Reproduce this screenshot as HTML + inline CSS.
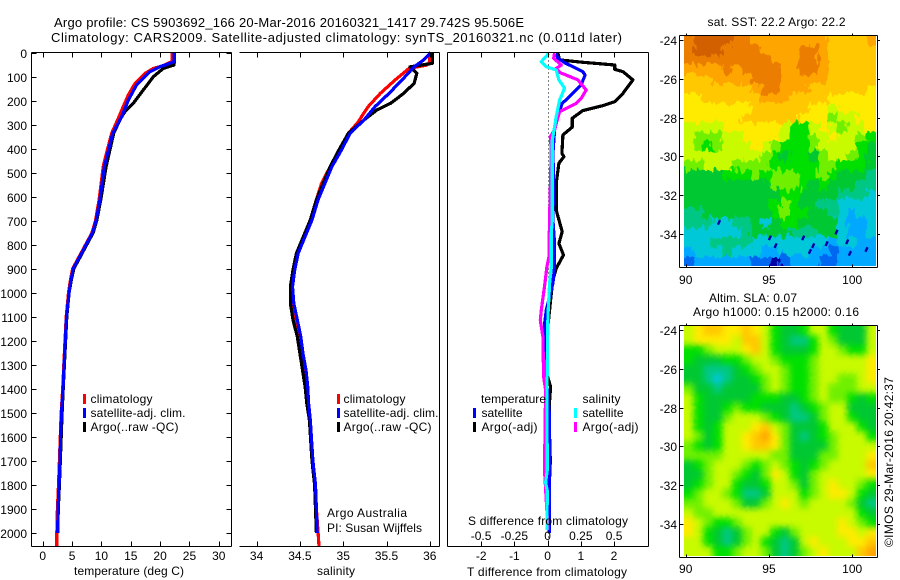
<!DOCTYPE html>
<html lang="en">
<head>
<meta charset="utf-8">
<title>Argo profile 5903692_166</title>
<style>
html,body{margin:0;padding:0;background:#fff;}
svg{display:block;}
text{font-family:"Liberation Sans",sans-serif;font-size:12px;fill:#000;}
</style>
</head>
<body>
<svg id="chart" xmlns="http://www.w3.org/2000/svg" width="900" height="580" viewBox="0 0 900 580">
  <defs>
    <filter id="soft-sst" x="-10%" y="-10%" width="120%" height="120%" color-interpolation-filters="sRGB">
      <feTurbulence type="fractalNoise" baseFrequency="0.22 0.1" numOctaves="2" seed="4" result="noise"/>
      <feDisplacementMap in="SourceGraphic" in2="noise" scale="13" xChannelSelector="R" yChannelSelector="G"/>
    </filter>
    <filter id="soft-sla" x="-10%" y="-10%" width="120%" height="120%" color-interpolation-filters="sRGB">
      <feGaussianBlur in="SourceGraphic" stdDeviation="3.2" result="blurred"/>
      <feTurbulence type="fractalNoise" baseFrequency="0.3" numOctaves="1" seed="2" result="noise"/>
      <feDisplacementMap in="blurred" in2="noise" scale="3" xChannelSelector="R" yChannelSelector="G"/>
    </filter>
    <clipPath id="clip-sst"><rect x="684" y="36" width="192" height="230"/></clipPath>
    <clipPath id="clip-sla"><rect x="684" y="326" width="192" height="230"/></clipPath>
  </defs>
  <rect width="900" height="580" fill="#fff"/>
  <text x="54" y="27" style="font-size:13px" textLength="470" lengthAdjust="spacing">Argo profile: CS 5903692_166 20-Mar-2016 20160321_1417 29.742S 95.506E</text>
  <text x="51" y="42" style="font-size:13px" textLength="571" lengthAdjust="spacing">Climatology: CARS2009. Satellite-adjusted climatology: synTS_20160321.nc (0.011d later)</text>
  <g id="panels"></g>
  <text x="74" y="575" textLength="110" lengthAdjust="spacing">temperature (deg C)</text>
  <text x="317" y="575" textLength="38" lengthAdjust="spacing">salinity</text>
  <text x="467" y="576" textLength="160" lengthAdjust="spacing">T difference from climatology</text>
  <text x="468" y="525" textLength="160" lengthAdjust="spacing">S difference from climatology</text>
  <text x="327" y="517" textLength="80" lengthAdjust="spacing">Argo Australia</text>
  <text x="327" y="532" textLength="95" lengthAdjust="spacing">PI: Susan Wijffels</text>

  <g>
    <rect x="83" y="394" width="3" height="10" fill="#f00"/>
    <text x="90.5" y="403" textLength="62" lengthAdjust="spacing">climatology</text>
    <rect x="83" y="408" width="3" height="10" fill="#00f"/>
    <text x="90.5" y="417" textLength="95" lengthAdjust="spacing">satellite-adj. clim.</text>
    <rect x="83" y="422" width="3" height="10" fill="#000"/>
    <text x="90.5" y="431" textLength="88" lengthAdjust="spacing">Argo(..raw -QC)</text>
  </g>
  <g>
    <rect x="337" y="394" width="3" height="10" fill="#f00"/>
    <text x="343.5" y="403" textLength="62" lengthAdjust="spacing">climatology</text>
    <rect x="337" y="408" width="3" height="10" fill="#00f"/>
    <text x="343.5" y="417" textLength="95" lengthAdjust="spacing">satellite-adj. clim.</text>
    <rect x="337" y="422" width="3" height="10" fill="#000"/>
    <text x="343.5" y="431" textLength="88" lengthAdjust="spacing">Argo(..raw -QC)</text>
  </g>
  <g>
    <text x="481" y="403" textLength="65" lengthAdjust="spacing">temperature</text>
    <rect x="473" y="408" width="3" height="10" fill="#00f"/>
    <text x="481.5" y="417" textLength="41" lengthAdjust="spacing">satellite</text>
    <rect x="473" y="422" width="3" height="10" fill="#000"/>
    <text x="481.5" y="431" textLength="56" lengthAdjust="spacing">Argo(-adj)</text>
    <text x="582.5" y="403" textLength="38" lengthAdjust="spacing">salinity</text>
    <rect x="574" y="408" width="3" height="10" fill="#0ff"/>
    <text x="582.5" y="417" textLength="41" lengthAdjust="spacing">satellite</text>
    <rect x="574" y="422" width="3" height="10" fill="#f0f"/>
    <text x="582.5" y="431" textLength="56" lengthAdjust="spacing">Argo(-adj)</text>
  </g>

  <text x="707.5" y="26" textLength="138" lengthAdjust="spacing">sat. SST: 22.2 Argo: 22.2</text>
  <text x="709" y="302" textLength="88" lengthAdjust="spacing">Altim. SLA: 0.07</text>
  <text x="693" y="316" textLength="166" lengthAdjust="spacing">Argo h1000: 0.15 h2000: 0.16</text>
  <text transform="translate(893 547) rotate(-90)" textLength="170" lengthAdjust="spacing">©IMOS 29-Mar-2016 20:42:37</text>
</svg>

<script>
// ---- depth axis ----
const depthTicks = [0,100,200,300,400,500,600,700,800,900,1000,1100,1200,1300,1400,1500,1600,1700,1800,1900,2000];
const temperatureTicks = [0,5,10,15,20,25,30];
const salinityTicks = [34,34.5,35,35.5,36];
const salinityTickLabels = ['34','34.5','35','35.5','36'];
const tDiffTicks = [-2,-1,0,1,2];
const tDiffTickLabels = ['-2','-1','0','1','2'];
const sDiffTicks = [-0.5,-0.25,0,0.25,0.5];
const sDiffTickLabels = ['-0.5','-0.25','0','0.25','0.5'];

// ---- temperature panel ----
const tempClimDepth = [0,30,38,55,66,87,129,177,225,274,336,406,475,613,700,750,800,850,900,950,1000,1100,1200,1300,1400,1500,1600,1700,1800,1900,2000,2055];
const tempClimValue = [22.08,22.08,21.97,20.55,18.84,17.43,15.72,14.58,13.73,12.88,11.75,11,10.3,9.6,9.0,8.4,7.3,6.2,5.1,4.7,4.4,4.0,3.8,3.6,3.4,3.15,3.0,2.85,2.7,2.5,2.4,2.4];
const tempSatDepth = [0,38,45,59,80,135,198,267,336,475,613,700,750,800,850,900,950,1000,1100,1200,1300,1400,1500,1600,1700,1800,1900,2000];
const tempSatValue = [22.42,22.42,21.69,19.98,18.28,16.0,14.58,13.45,11.95,10.5,9.75,9.1,8.5,7.4,6.3,5.2,4.8,4.5,4.05,3.85,3.65,3.45,3.2,3.05,2.95,2.8,2.6,2.55];
const tempArgoDepth = [0,38,52,66,101,156,211,246,274,336,475,613,700,750,800,850,900,950,1000,1100,1200,1300,1400,1500,1600,1700,1800,1900,2000];
const tempArgoValue = [22.42,22.42,22.37,20.55,18.84,17.14,15.43,14.02,13.29,12.1,10.8,9.9,9.2,8.6,7.5,6.4,5.3,4.85,4.5,4.1,3.9,3.7,3.5,3.3,3.15,3.0,2.85,2.65,2.55];

// ---- salinity panel ----
const salClimDepth = [0,38,52,66,114,170,225,295,336,406,475,544,613,697,766,836,905,975,1044,1113,1183,1252,1322,1391,1461,1530,1700,1800,1900,2000,2055];
const salClimValue = [36.0,36.0,35.97,35.76,35.6,35.43,35.29,35.16,35.06,34.95,34.85,34.75,34.69,34.62,34.54,34.46,34.43,34.41,34.41,34.45,34.49,34.52,34.55,34.57,34.6,34.62,34.65,34.68,34.69,34.71,34.72];
const salSatDepth = [0,31,59,114,170,225,281,336,406,475,544,613,697,766,836,905,975,1044,1113,1183,1252,1322,1391,1461,1530,1700,1800,1900,2000];
const salSatValue = [36.01,35.93,35.82,35.68,35.53,35.37,35.24,35.08,34.98,34.87,34.79,34.71,34.64,34.56,34.48,34.44,34.415,34.43,34.47,34.51,34.535,34.57,34.59,34.6,34.62,34.65,34.68,34.69,34.7];
const salArgoDepth = [0,45,60,70,87,128,170,211,239,281,336,406,475,613,697,766,836,905,975,1044,1113,1183,1252,1322,1391,1461,1530,1700,1800,1900,2000];
const salArgoValue = [36.03,36.03,35.77,35.8,35.85,35.82,35.7,35.55,35.39,35.24,35.06,34.95,34.85,34.69,34.62,34.54,34.46,34.42,34.39,34.39,34.42,34.47,34.5,34.53,34.56,34.58,34.61,34.64,34.67,34.68,34.69];

// ---- difference panel ----
const diffTArgoDepth = [3,31,41,48,52,70,80,114,142,170,205,221,242,274,311,343,420,434,461,545,656,746,795,843,899,947,1003,1072,1150,1350,1391,1450,1600,1700,1800,2000];
const diffTArgoValue = [0.31,0.36,1.06,1.67,2.02,2.02,2.27,2.57,2.42,2.27,2.02,1.67,1.06,0.74,0.74,0.46,0.43,0.49,0.34,0.26,0.26,0.44,0.34,0.48,0.26,0.16,0.11,0.06,0.0,0.0,0.09,0.06,0.06,0.08,0.05,0.05];
const diffTSatDepth = [3,24,42,80,94,135,177,212,260,323,420,531,698,795,892,961,1072,1128,1308,1420,1500,2000];
const diffTSatValue = [0.26,0.31,0.51,1.06,1.13,1.01,0.71,0.44,0.31,0.21,0.16,0.18,0.16,0.21,0.21,0.16,-0.04,-0.09,-0.07,0.0,0.05,0.05];
const diffSArgoDepth = [3,24,52,66,83,114,156,191,212,246,295,323,350,406,503,683,850,892,975,1072,1114,1183,1350,1405,1738,1988];
const diffSArgoValue = [0.053,0.045,0.103,0.065,0.09,0.228,0.29,0.253,0.216,0.09,0.065,0.053,0.02,0.028,0.023,0.015,0.01,-0.005,-0.023,-0.047,-0.055,-0.035,-0.03,-0.015,-0.023,0.003];
const diffSSatDepth = [3,38,59,73,114,149,198,267,309,364,698,753,892,961,1100,1433,1738,1790,1825,1988];
const diffSSatValue = [0.01,-0.047,-0.01,0.065,0.085,0.128,0.09,0.065,0.053,0.035,0.035,0.028,0.028,0.015,0.002,-0.005,-0.002,-0.015,-0.002,-0.005];

// ---- map axes ----
const mapLonTicks = [90,95,100];
const mapLatTicks = [24,26,28,30,32,34];

// ---- SST map: colour level for each cell, north to south, west to east ----
const sstLevels = [
[12,13,13,13,13,12,12,11,11,11,11,11,11,11,11,10,10,10,10,11],
[12,13,13,13,12,12,12,12,11,11,11,11,12,12,11,10,10,10,10,10],
[12,12,12,12,12,12,12,12,12,11,11,11,12,12,11,10,10,10,10,10],
[11,11,11,11,12,11,12,12,12,12,11,11,12,12,11,10,10,10,10,10],
[10,10,10,11,11,11,11,12,12,12,11,11,11,11,11,10,10,10,10,10],
[10,10,10,10,10,10,10,11,12,12,11,11,11,10,10,10,10,10,10,9],
[9,9,10,10,10,10,10,10,11,11,11,10,10,10,10,9,9,9,9,9],
[9,9,9,9,9,9,9,10,10,10,10,10,10,9,9,8,9,9,9,9],
[9,9,9,9,9,9,10,10,10,10,10,10,9,9,9,7,8,8,9,9],
[8,8,8,8,9,9,9,9,9,9,8,6,6,8,9,8,7,8,8,9],
[8,7,7,7,8,8,9,9,9,9,8,6,6,7,8,9,8,8,7,6],
[8,7,6,7,8,8,8,9,8,7,6,6,6,7,8,8,8,8,6,5],
[8,8,8,8,8,8,8,8,7,6,5,6,6,5,7,8,8,7,6,5],
[7,7,8,8,8,7,7,7,7,6,6,6,6,6,7,7,6,6,6,5],
[5,5,5,5,6,6,6,7,6,7,7,7,6,6,7,6,5,5,5,4],
[5,5,5,5,5,5,5,5,5,7,7,7,6,5,6,5,5,5,4,4],
[5,5,5,5,5,5,5,5,5,5,6,6,5,5,5,5,4,4,4,3],
[5,5,5,5,5,5,5,5,5,6,7,6,5,5,4,4,3,3,3,3],
[4,4,5,5,5,5,5,5,5,6,7,6,6,5,5,4,3,2,3,3],
[4,4,4,3,3,4,4,5,3,5,6,6,5,5,5,5,3,2,2,3],
[3,3,3,3,3,3,4,5,5,5,5,4,4,4,5,5,3,2,2,3],
[3,3,3,4,4,4,4,3,3,3,3,3,3,3,3,2,3,3,2,2],
[2,3,3,3,4,3,3,3,2,2,3,3,3,2,2,1,2,2,2,2],
[1,2,2,2,2,2,2,1,1,0,1,2,2,2,1,1,2,2,2,2]
];
const sstSpeckLons = [92,95.06,95.4,97.06,97.66,97.46,98.46,99.7,99.86,100.86,99.06];
const sstSpeckLats = [33.4,34.2,34.6,34.2,34.6,34.9,34.5,34.4,35.0,34.8,33.9];

// ---- SLA map: colour level for each cell, north to south, west to east ----
const slaLevels = [
[8,9,10,10,9,9,10,9,8,6,5,5,6,8,8,6,5,5,5,8],
[8,9,9,9,9,8,10,10,8,6,5,4,4,6,8,7,5,5,5,8],
[6,6,7,8,8,8,9,10,8,6,5,5,5,6,8,8,7,6,6,8],
[6,5,5,5,6,6,7,8,8,7,6,6,6,7,8,8,8,8,8,9],
[5,5,4,4,4,5,6,7,8,8,7,6,6,7,8,8,8,8,8,9],
[5,5,4,3,4,5,5,6,7,8,7,6,6,7,8,8,7,7,8,9],
[7,5,5,4,5,5,5,5,7,8,7,6,6,7,8,7,7,7,8,8],
[8,6,5,5,5,5,5,6,6,6,5,5,6,7,8,7,7,6,5,6],
[8,6,5,5,6,7,6,6,5,5,5,4,5,6,7,8,8,5,5,5],
[8,6,5,5,7,8,8,8,7,6,5,4,4,5,7,8,8,6,5,5],
[8,6,5,6,8,8,8,9,10,8,7,5,5,5,6,8,8,8,6,5],
[8,7,5,6,8,8,9,10,11,9,7,5,4,5,6,7,8,8,8,6],
[7,6,5,6,8,8,9,10,10,9,7,5,5,5,5,7,8,8,8,8],
[7,7,7,7,8,8,8,8,8,7,7,5,5,5,7,7,8,8,8,9],
[5,6,7,8,8,8,7,6,7,8,7,6,5,6,7,8,8,8,8,10],
[5,5,7,8,8,7,6,5,7,9,8,6,5,7,8,8,8,8,8,9],
[5,6,7,8,8,6,5,5,6,8,8,7,5,7,8,9,8,8,7,6],
[6,7,8,8,7,6,4,4,5,8,8,8,6,7,8,9,9,8,6,5],
[7,7,8,8,8,7,5,5,7,8,9,8,7,8,8,8,8,7,5,4],
[8,7,7,8,8,8,8,8,8,8,8,8,8,8,8,8,8,8,6,5],
[9,8,7,6,6,7,8,8,8,8,8,8,8,8,8,8,9,8,7,6],
[9,8,6,5,4,5,7,8,8,6,5,7,8,8,8,8,9,9,8,9],
[8,8,6,5,4,5,7,8,6,5,4,5,8,9,8,8,8,9,9,10],
[8,8,8,6,6,7,8,8,7,5,4,5,7,8,9,8,8,8,10,11]
];

// ---- axis functions ----
const yDepth = d => 52.5 + d * 0.2402;
const xTemp = t => 42.7 + t * 5.87;
const xSal = s => 343.2 + (s - 35) * 86.6;
const xTDiff = t => 547.6 + t * 33.2;
const xSDiff = s => 547.6 + s * 133;
const xLon = lon => 685.7 + (lon - 90) * 16.65;
const ySstLat = lat => 40 + (lat - 24) * 19.4;
const ySlaLat = lat => 330 + (lat - 24) * 19.4;

const levelColours = ['#0000a5','#0068f0','#00a8ff','#00c8d8','#00c884','#00c832','#00e000','#70f000','#c8fa00','#ffeb00','#ffc800','#ffa500','#eb7d00','#d25f00'];

const NS = 'http://www.w3.org/2000/svg';
const panels = document.getElementById('panels');

function make(parent, tag, attrs) {
  const el = document.createElementNS(NS, tag);
  for (const k in attrs) el.setAttribute(k, attrs[k]);
  parent.appendChild(el);
  return el;
}

function hline(parent, x1, x2, y) {
  const el = make(parent, 'line', {x1: x1, x2: x2, y1: y, y2: y, stroke: '#000', 'stroke-width': 1, 'shape-rendering': 'crispEdges'});
  
  
  return el;
}
function vline(parent, x, y1, y2) {
  const el = make(parent, 'line', {x1: x, x2: x, y1: y1, y2: y2, stroke: '#000', 'stroke-width': 1, 'shape-rendering': 'crispEdges'});
  
  
  return el;
}
function label(parent, x, y, str, anchor) {
  const el = make(parent, 'text', {x: x, y: y, 'text-anchor': anchor || 'middle'});
  
  
  el.textContent = str;
  return el;
}
function series(parent, name, depths, values, xFn, colour) {
  const pts = depths.map((d, i) => xFn(values[i]).toFixed(1) + ',' + yDepth(d).toFixed(1)).join(' ');
  const el = make(parent, 'polyline', {points: pts, fill: 'none', stroke: colour, 'stroke-width': 3.2, 'stroke-linejoin': 'round', 'shape-rendering': 'crispEdges'});
  
  
  return el;
}

const TOP = 52.5, BOTTOM = 546.5;

// Temperature panel
const tempPanel = make(panels, 'g', {});


series(tempPanel, 'series-argo-temperature', tempArgoDepth, tempArgoValue, xTemp, '#000');
series(tempPanel, 'series-climatology-temperature', tempClimDepth, tempClimValue, xTemp, '#f00');
series(tempPanel, 'series-satellite-temperature', tempSatDepth, tempSatValue, xTemp, '#00f');
hline(tempPanel, 31.5, 231.5, TOP);
hline(tempPanel, 31.5, 231.5, BOTTOM);
vline(tempPanel, 31.5, TOP, BOTTOM);
vline(tempPanel, 231.5, TOP, BOTTOM);
depthTicks.forEach(d => {
  const y = Math.round(yDepth(d)) + 0.5;
  hline(tempPanel, 31.5, 36.5, y);
  hline(tempPanel, 226.5, 231.5, y);
  label(tempPanel, 27, y + 4.5, String(d), 'end');
});
temperatureTicks.forEach(t => {
  const x = Math.round(xTemp(t)) + 0.5;
  vline(tempPanel, x, TOP, TOP + 5);
  vline(tempPanel, x, BOTTOM - 5, BOTTOM);
  label(tempPanel, xTemp(t), 560, String(t));
});

// Salinity panel
const salPanel = make(panels, 'g', {});


series(salPanel, 'series-climatology-salinity', salClimDepth, salClimValue, xSal, '#f00');
series(salPanel, 'series-argo-salinity', salArgoDepth, salArgoValue, xSal, '#000');
series(salPanel, 'series-satellite-salinity', salSatDepth, salSatValue, xSal, '#00f');
hline(salPanel, 239.5, 439.5, TOP);
hline(salPanel, 239.5, 439.5, BOTTOM);
vline(salPanel, 439.5, TOP, BOTTOM);
salinityTicks.forEach((s, i) => {
  const x = Math.round(xSal(s)) + 0.5;
  vline(salPanel, x, TOP, TOP + 5);
  vline(salPanel, x, BOTTOM - 5, BOTTOM);
  label(salPanel, xSal(s), 560, salinityTickLabels[i]);
});

// Difference panel
const diffPanel = make(panels, 'g', {});


const zeroLine = make(diffPanel, 'line', {x1: 548.5, x2: 548.5, y1: TOP, y2: BOTTOM, stroke: '#000', 'stroke-width': 1, 'stroke-dasharray': '1 3', 'shape-rendering': 'crispEdges'});


series(diffPanel, 'series-t-argo-difference', diffTArgoDepth, diffTArgoValue, xTDiff, '#000');
series(diffPanel, 'series-t-satellite-difference', diffTSatDepth, diffTSatValue, xTDiff, '#00f');
series(diffPanel, 'series-s-argo-difference', diffSArgoDepth, diffSArgoValue, xSDiff, '#f0f');
series(diffPanel, 'series-s-satellite-difference', diffSSatDepth, diffSSatValue, xSDiff, '#0ff');
hline(diffPanel, 447.5, 648.5, TOP);
hline(diffPanel, 447.5, 648.5, BOTTOM);
vline(diffPanel, 447.5, TOP, BOTTOM);
vline(diffPanel, 648.5, TOP, BOTTOM);
tDiffTicks.forEach((t, i) => {
  const x = Math.round(xTDiff(t)) + 0.5;
  vline(diffPanel, x, TOP, TOP + 5);
  vline(diffPanel, x, BOTTOM - 5, BOTTOM);
  label(diffPanel, xTDiff(t), 560, tDiffTickLabels[i]);
});
sDiffTicks.forEach((s, i) => {
  label(diffPanel, xSDiff(s), 540, sDiffTickLabels[i]);
});

// Maps
function drawMap(name, levels, clipId, filterId, yTop, yLat, frameTop, frameBottom, labelBaseline, specks) {
  const map = make(panels, 'g', {});
  
  
  const clip = make(map, 'g', {'clip-path': 'url(#' + clipId + ')'});
  const cells = make(clip, 'g', {filter: 'url(#' + filterId + ')'});
  const cols = levels[0].length, rows = levels.length;
  const cw = 192 / cols, ch = 230 / rows;
  const bleed = 12;
  levels.forEach((row, r) => row.forEach((lvl, c) => {
    const left = c === 0 ? bleed : 0, right = c === cols - 1 ? bleed : 0;
    const up = r === 0 ? bleed : 0, down = r === rows - 1 ? bleed : 0;
    const cell = make(cells, 'rect', {
      x: (684 + c * cw - left).toFixed(2),
      y: (yTop + r * ch - up).toFixed(2),
      width: (cw + 0.6 + left + right).toFixed(2),
      height: (ch + 0.6 + up + down).toFixed(2),
      fill: levelColours[lvl]
    });
    
    
  }));
  if (specks) {
    specks.lons.forEach((lon, i) => {
      const sp = make(clip, 'rect', {x: (xLon(lon) - 1.2).toFixed(1), y: (yLat(specks.lats[i]) - 2.5).toFixed(1), width: 2.4, height: 5, fill: levelColours[0], transform: 'rotate(25 ' + xLon(lon).toFixed(1) + ' ' + yLat(specks.lats[i]).toFixed(1) + ')'});
      
      
    });
  }
  hline(map, 679.5, 877.5, frameTop);
  hline(map, 679.5, 877.5, frameBottom);
  vline(map, 679.5, frameTop, frameBottom);
  vline(map, 877.5, frameTop, frameBottom);
  mapLatTicks.forEach(lat => {
    const y = Math.round(yLat(lat)) + 0.5;
    hline(map, 679.5, 683.5, y);
    hline(map, 877.5, 880, y);
    label(map, 677, y + 4.5, '-' + lat, 'end');
  });
  mapLonTicks.forEach(lon => {
    const x = Math.round(xLon(lon)) + 0.5;
    vline(map, x, frameBottom - 3, frameBottom);
    vline(map, x, frameTop - 2, frameTop);
    label(map, xLon(lon), labelBaseline, String(lon));
  });
}
drawMap('sst-map', sstLevels, 'clip-sst', 'soft-sst', 36, ySstLat, 35.5, 267.5, 284, {lons: sstSpeckLons, lats: sstSpeckLats});
drawMap('sla-map', slaLevels, 'clip-sla', 'soft-sla', 326, ySlaLat, 325.5, 557.5, 573, null);
</script>
</body>
</html>
